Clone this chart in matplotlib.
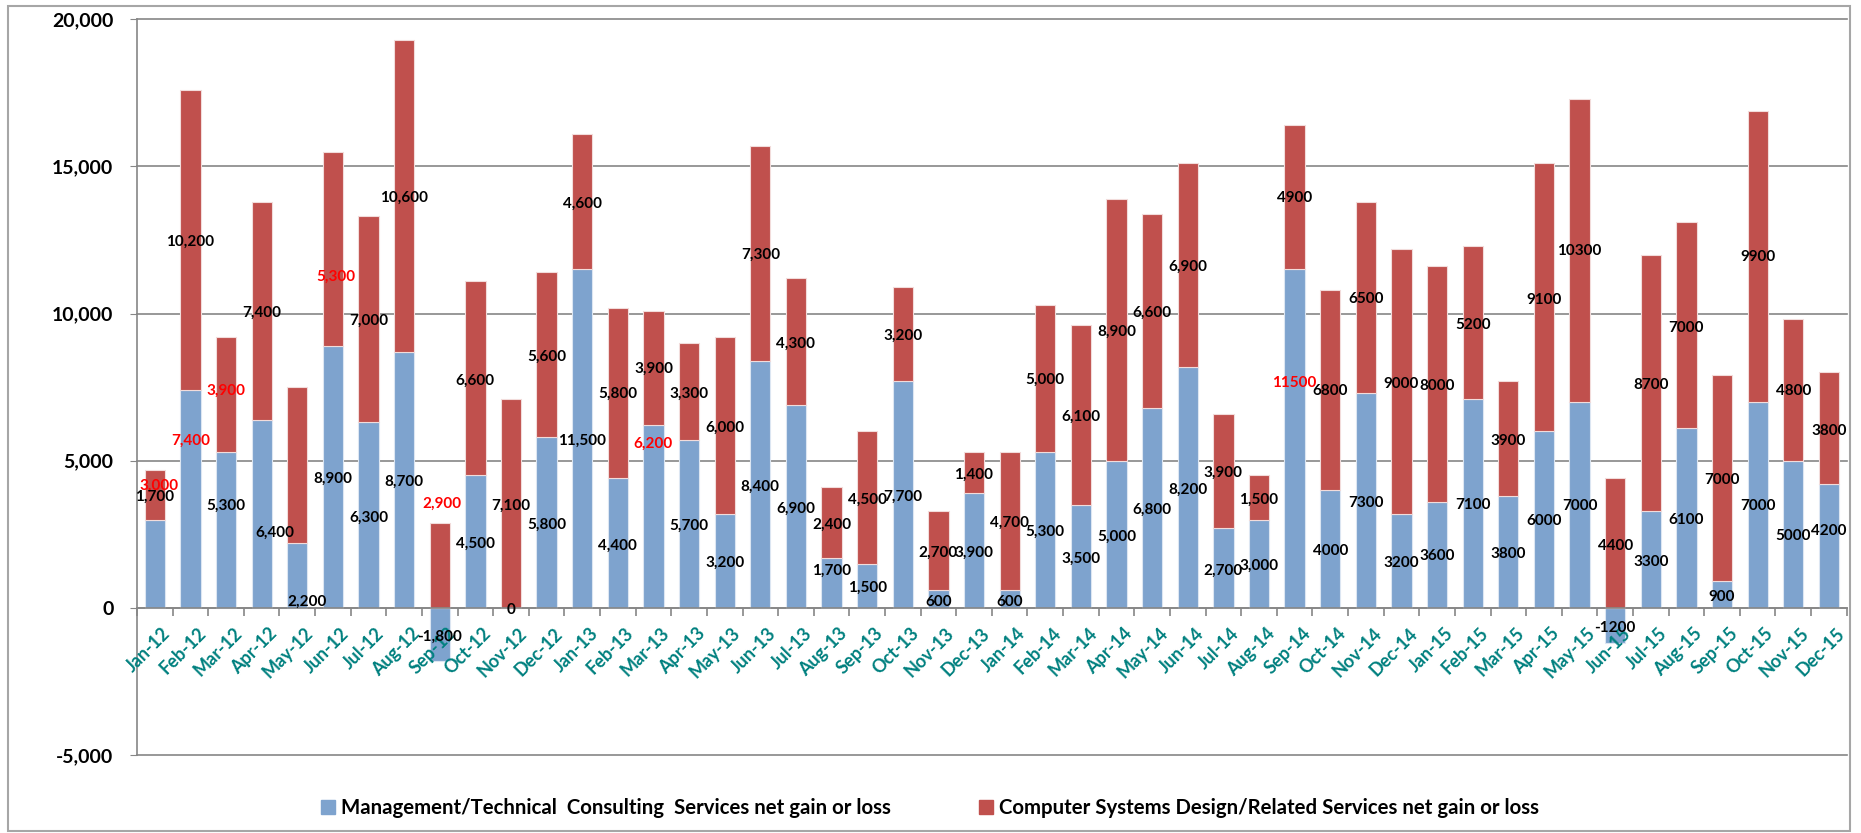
import numpy as np
import matplotlib
matplotlib.use("Agg")
from matplotlib import pyplot as plt
from matplotlib.patches import Rectangle, Patch
from matplotlib.ticker import FuncFormatter
import matplotlib.transforms as mtransforms

plt.rcParams['font.family'] = ['Lato', 'DejaVu Sans']
plt.rcParams['font.weight'] = 'bold'

months = ['Jan-12', 'Feb-12', 'Mar-12', 'Apr-12', 'May-12', 'Jun-12', 'Jul-12', 'Aug-12',
          'Sep-12', 'Oct-12', 'Nov-12', 'Dec-12', 'Jan-13', 'Feb-13', 'Mar-13', 'Apr-13',
          'May-13', 'Jun-13', 'Jul-13', 'Aug-13', 'Sep-13', 'Oct-13', 'Nov-13', 'Dec-13',
          'Jan-14', 'Feb-14', 'Mar-14', 'Apr-14', 'May-14', 'Jun-14', 'Jul-14', 'Aug-14',
          'Sep-14', 'Oct-14', 'Nov-14', 'Dec-14', 'Jan-15', 'Feb-15', 'Mar-15', 'Apr-15',
          'May-15', 'Jun-15', 'Jul-15', 'Aug-15', 'Sep-15', 'Oct-15', 'Nov-15', 'Dec-15']

# Management/Technical Consulting Services
mgmt = [3000, 7400, 5300, 6400, 2200, 8900, 6300, 8700, -1800, 4500, 0, 5800,
        11500, 4400, 6200, 5700, 3200, 8400, 6900, 1700, 1500, 7700, 600, 3900,
        600, 5300, 3500, 5000, 6800, 8200, 2700, 3000, 11500, 4000, 7300, 3200,
        3600, 7100, 3800, 6000, 7000, -1200, 3300, 6100, 900, 7000, 5000, 4200]

# Computer Systems Design/Related Services
comp = [1700, 10200, 3900, 7400, 5300, 6600, 7000, 10600, 2900, 6600, 7100, 5600,
        4600, 5800, 3900, 3300, 6000, 7300, 4300, 2400, 4500, 3200, 2700, 1400,
        4700, 5000, 6100, 8900, 6600, 6900, 3900, 1500, 4900, 6800, 6500, 9000,
        8000, 5200, 3900, 9100, 10300, 4400, 8700, 7000, 7000, 9900, 4800, 3800]

# where the data labels sit (the original chart has them scattered around)
mgmt_lbl_y = [4150, 5680, 3470, 2550, 215, 4375, 3070, 4295, -975, 2186, -70, 2832,
              5678, 2118, 5590, 2800, 1540, 4114, 3366, 1258, 690, 3785, 215, 1880,
              215, 2584, 1677, 2425, 3344, 4024, 1270, 1440, 7630, 1916, 3570, 1530,
              1746, 3480, 1847, 2935, 3446, -670, 1564, 2970, 374, 3446, 2425, 2595]
comp_lbl_y = [3770, 12450, 7380, 10040, 11260, None, 9750, 13950, 3536, 7718, 3480, 8534,
              13746, 7265, 8110, 7265, 6130, 12000, 8990, 2832, 3683, 9248, 1870, 4522,
              2890, 7740, 6504, 9395, 10040, 11605, 4590, 3672, 13918, 7356, 10482, 7605,
              7525, 9622, 5678, 10472, 12115, 2118, 7582, 9520, 4330, 11910, 7356, 6018]
mgmt_lbl_dx = {0: 0.12, 3: 0.38, 4: 0.27}
comp_lbl_dx = {4: 1.08, 8: 0.07}
mgmt_lbl_red = [0, 1, 14, 32]
comp_lbl_red = [2, 4, 8]

BLUE = '#7EA3CE'
RED = '#C0504D'
TEAL = '#00807F'
GRID = '#868686'

fig = plt.figure(figsize=(18.61, 8.33), dpi=100)
ax = fig.add_axes([137 / 1861, 1 - 755 / 833, (1846.7 - 137) / 1861, (755 - 19.3) / 833])

x = np.arange(len(months))
w = 0.57
mgmt_a = np.array(mgmt)
comp_a = np.array(comp)
ax.bar(x, mgmt_a, w, color=BLUE, edgecolor='#DCE6F2', linewidth=0.8, zorder=3)
ax.bar(x, comp_a, w, bottom=np.clip(mgmt_a, 0, None), color=RED,
       edgecolor='#F2DCDB', linewidth=0.8, zorder=3)


def fmt(v, i):
    if i < 32:
        return f'{v:,}'
    return str(v)


for i in range(len(months)):
    c = 'red' if i in mgmt_lbl_red else 'black'
    ax.text(i + mgmt_lbl_dx.get(i, 0), mgmt_lbl_y[i], fmt(mgmt[i], i), ha='center', va='center',
            fontsize=11, fontweight='bold', color=c, zorder=7)
    if comp_lbl_y[i] is not None:
        c = 'red' if i in comp_lbl_red else 'black'
        ax.text(i + comp_lbl_dx.get(i, 0), comp_lbl_y[i], fmt(comp[i], i), ha='center', va='center',
                fontsize=11, fontweight='bold', color=c, zorder=7)

ax.set_xlim(-0.5, len(months) - 0.5)
ax.set_ylim(-5000, 20000)
ax.set_yticks(np.arange(-5000, 20001, 5000))
ax.yaxis.set_major_formatter(FuncFormatter(lambda v, p: f'{int(v):,}'))
ax.grid(axis='y', color=GRID, linewidth=1.2, zorder=0)
for t in ax.yaxis.get_gridlines():
    t.set_clip_on(False)
ax.tick_params(axis='y', length=5, color=GRID, labelsize=14, pad=12)
for lbl in ax.get_yticklabels():
    lbl.set_fontweight('bold')

ax.spines['top'].set_visible(False)
ax.spines['right'].set_visible(False)
ax.spines['left'].set_color(GRID)
ax.spines['left'].set_linewidth(1.2)
ax.spines['bottom'].set_position(('data', 0))
ax.spines['bottom'].set_color(GRID)
ax.spines['bottom'].set_linewidth(1.2)
ax.spines['bottom'].set_zorder(4)

ax.set_xticks(x)
ax.set_xticklabels(months, rotation=45, ha='right', va='top', rotation_mode='anchor',
                   fontsize=13, fontweight='bold', color=TEAL)
ax.set_xticks(np.arange(-0.5, len(months), 1), minor=True)
ax.tick_params(axis='x', which='major', length=0, pad=12)
ax.tick_params(axis='x', which='minor', length=6, color=GRID, width=1.2)
ax.xaxis.set_zorder(6)
shift = mtransforms.ScaledTranslation(7 / 100, 0, fig.dpi_scale_trans)
for lbl in ax.get_xticklabels():
    lbl.set_transform(lbl.get_transform() + shift)

handles = [Patch(color=BLUE), Patch(color=RED)]
names = ['Management/Technical  Consulting  Services net gain or loss',
         'Computer Systems Design/Related Services net gain or loss']
fig.legend(handles, names, loc='center', bbox_to_anchor=(930 / 1861, 1 - 808 / 833), ncol=2,
           frameon=False, handlelength=0.7, handleheight=0.7,
           handletextpad=0.3, columnspacing=4.3, prop={'weight': 'bold', 'size': 14.7})

fig.patches.append(Rectangle((8 / 1861, 0.002), (1850 - 8) / 1861, 1 - 6.3 / 833 - 0.002,
                             transform=fig.transFigure, fill=False, edgecolor='#A6A6A6',
                             linewidth=1.5))

fig.savefig('out.png', dpi=100)
